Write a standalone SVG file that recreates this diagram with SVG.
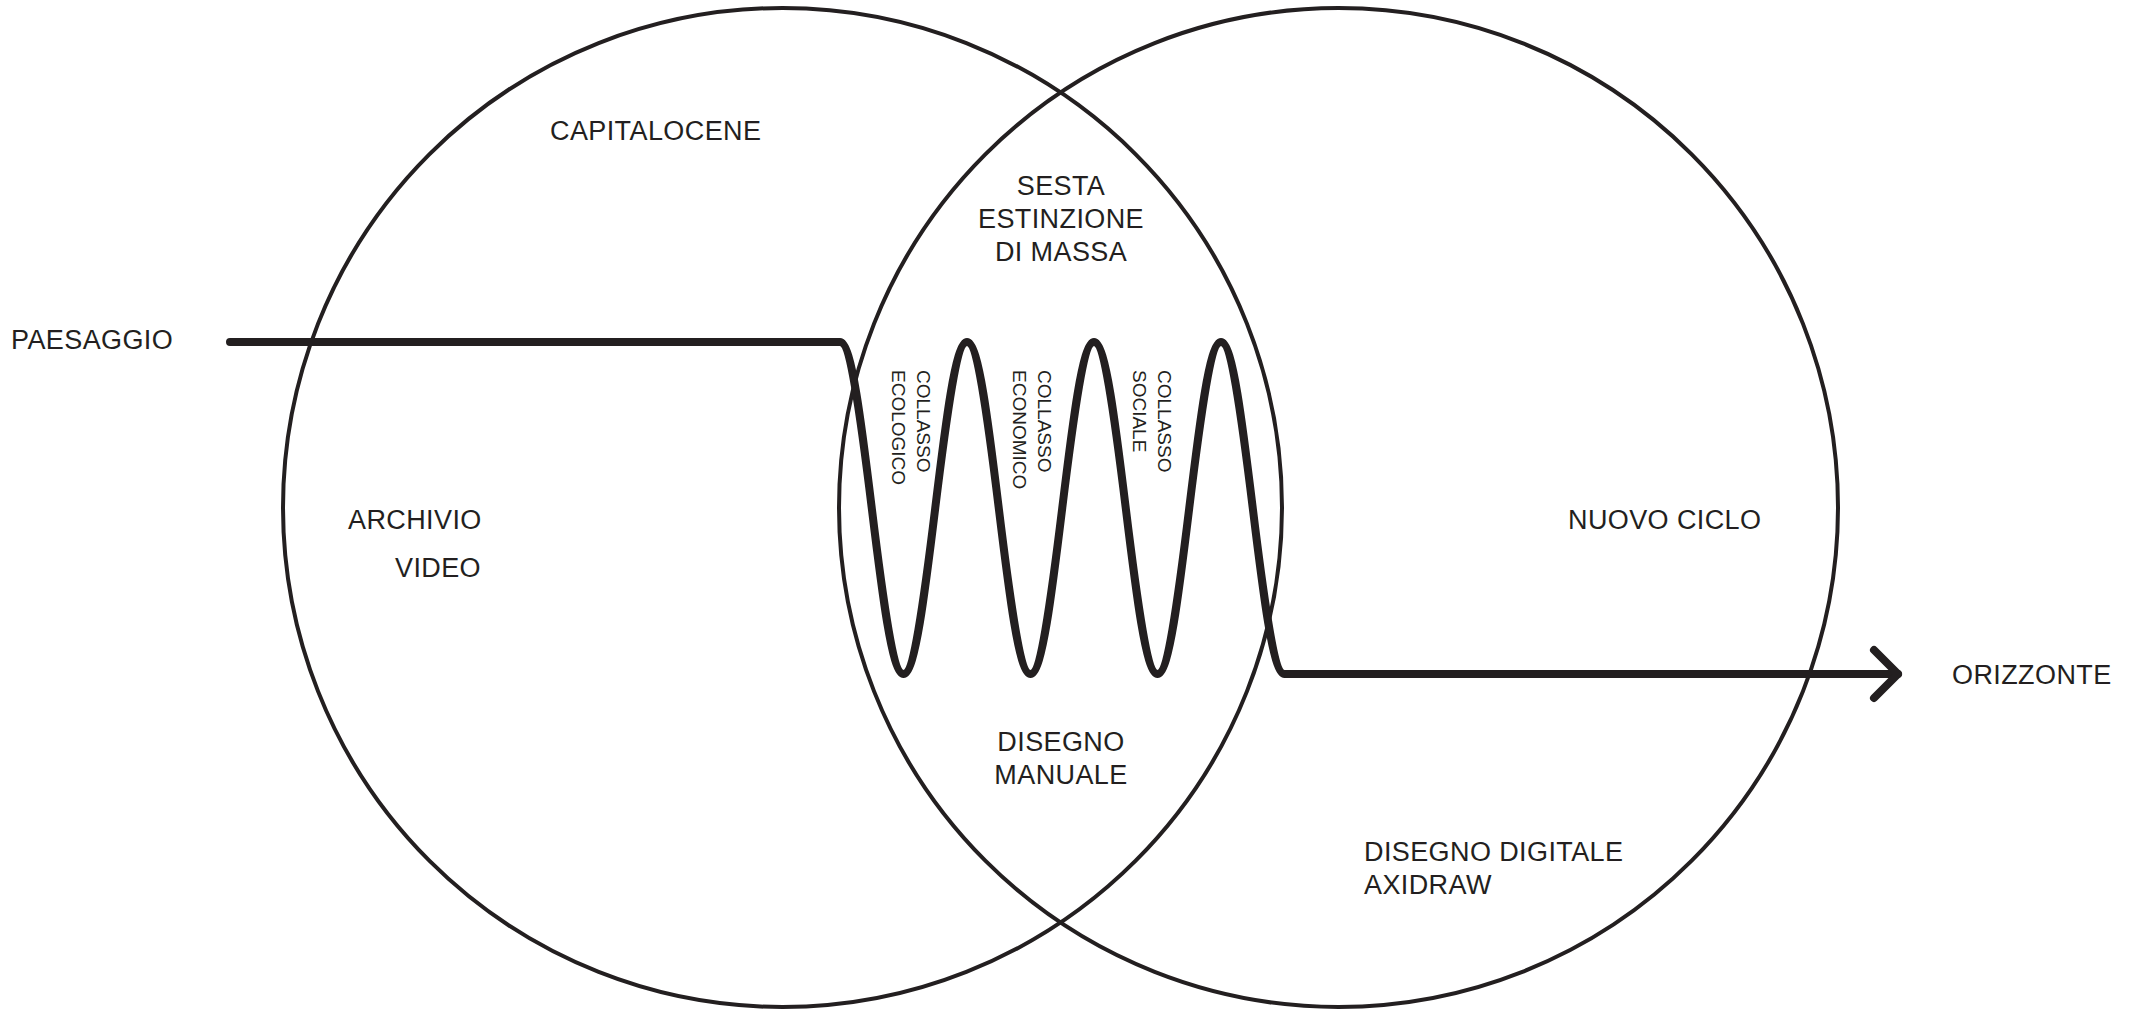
<svg xmlns="http://www.w3.org/2000/svg" width="2134" height="1011" viewBox="0 0 2134 1011">
  <style>
    .ring { fill: none; stroke: #231f20; stroke-width: 4; }
    .flow { fill: none; stroke: #231f20; stroke-width: 8; stroke-linecap: round; stroke-linejoin: round; }
    .lbl { font-family: "Liberation Sans", Arial, sans-serif; font-size: 27px; letter-spacing: 0.4px; fill: #231f20; }
    .mid { text-anchor: middle; }
    .vert { font-family: "Liberation Sans", Arial, sans-serif; font-size: 19px; fill: #231f20; }
  </style>
  <rect width="2134" height="1011" fill="#ffffff"/>

  <!-- two overlapping sets -->
  <g id="set-left">
    <circle class="ring" cx="782.5" cy="507.5" r="499.5"/>
    <text class="lbl" x="550" y="140">CAPITALOCENE</text>
    <text class="lbl" x="348" y="529">ARCHIVIO</text>
    <text class="lbl" x="395" y="577">VIDEO</text>
  </g>
  <g id="set-right">
    <circle class="ring" cx="1338.5" cy="507.5" r="499.5"/>
    <text class="lbl" x="1568" y="529">NUOVO CICLO</text>
    <text class="lbl" x="1364" y="861">DISEGNO DIGITALE</text>
    <text class="lbl" x="1364" y="894">AXIDRAW</text>
  </g>

  <!-- overlap region labels -->
  <g id="overlap-top">
    <text class="lbl mid" x="1061" y="195">SESTA</text>
    <text class="lbl mid" x="1061" y="228">ESTINZIONE</text>
    <text class="lbl mid" x="1061" y="261">DI MASSA</text>
  </g>
  <g id="overlap-bottom">
    <text class="lbl mid" x="1061" y="751">DISEGNO</text>
    <text class="lbl mid" x="1061" y="784">MANUALE</text>
  </g>

  <g id="collapse-ecological" transform="translate(916.7 370) rotate(90)">
    <text class="vert" x="0" y="0">COLLASSO</text>
    <text class="vert" x="0" y="25">ECOLOGICO</text>
  </g>
  <g id="collapse-economic" transform="translate(1038.3 370) rotate(90)">
    <text class="vert" x="0" y="0">COLLASSO</text>
    <text class="vert" x="0" y="25">ECONOMICO</text>
  </g>
  <g id="collapse-social" transform="translate(1158.3 370) rotate(90)">
    <text class="vert" x="0" y="0">COLLASSO</text>
    <text class="vert" x="0" y="25">SOCIALE</text>
  </g>

  <g id="start">
    <text class="lbl" x="11" y="349">PAESAGGIO</text>
  </g>
  <g id="end">
    <text class="lbl" x="1952" y="684">ORIZZONTE</text>
  </g>

  <!-- path from landscape to horizon, oscillating through the overlap -->
  <g id="connectors">
    <path class="flow" d="M 230 342 H 840
      c 11.49,0 21.4,81 31.75,166 c 10.35,85 20.26,166 31.75,166
      c 11.49,0 21.4,-81 31.75,-166 c 10.35,-85 20.26,-166 31.75,-166
      c 11.49,0 21.4,81 31.75,166 c 10.35,85 20.26,166 31.75,166
      c 11.49,0 21.4,-81 31.75,-166 c 10.35,-85 20.26,-166 31.75,-166
      c 11.49,0 21.4,81 31.75,166 c 10.35,85 20.26,166 31.75,166
      c 11.49,0 21.4,-81 31.75,-166 c 10.35,-85 20.26,-166 31.75,-166
      c 11.49,0 21.4,81 31.75,166 c 10.35,85 20.26,166 31.75,166
      H 1898"/>
    <path class="flow" d="M 1874 650 L 1898 674 L 1874 698"/>
  </g>
</svg>
